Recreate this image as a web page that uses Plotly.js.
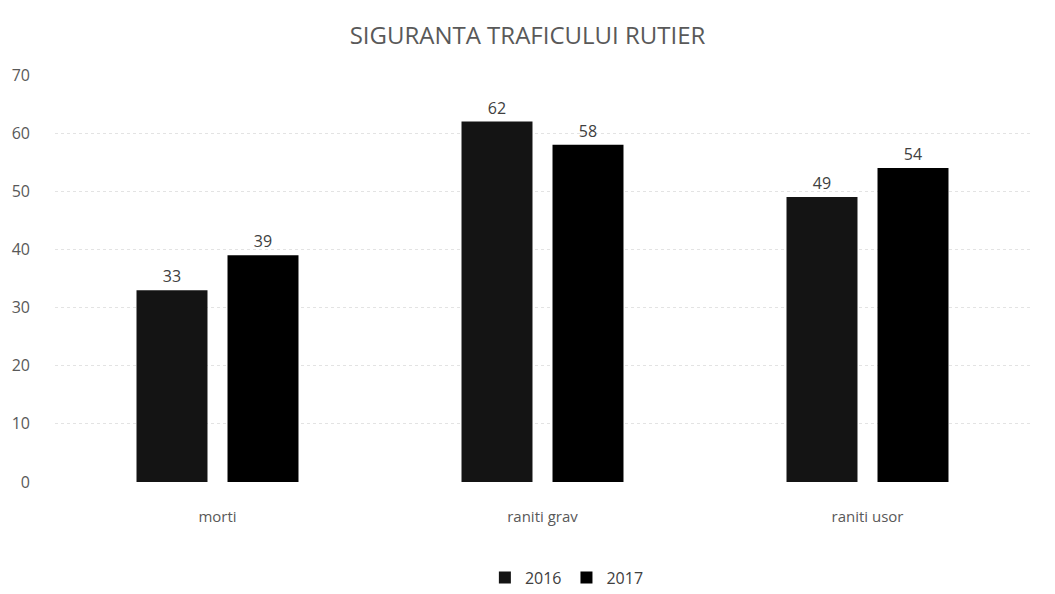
<!DOCTYPE html>
<html>
<head>
<meta charset="utf-8">
<script src="https://cdn.plot.ly/plotly-3.0.1.min.js"></script>
<style>
  html, body { margin: 0; padding: 0; background: #fff; }
  #grafic { width: 1055px; height: 594px; }
</style>
</head>
<body>
<div id="grafic"></div>
<script>
// categorii si valori
const categorii = ['morti', 'raniti grav', 'raniti usor'];
const valori2016 = [33, 62, 49];
const valori2017 = [39, 58, 54];
const ani = ['2016', '2017'];

const fontText = 'Open Sans, Liberation Sans, sans-serif';

function serie(nume, valori, culoare) {
    return {
        type: 'bar',
        name: nume,
        x: categorii,
        y: valori,
        text: valori.map(v => String(v)),
        textposition: 'outside',
        cliponaxis: false,
        textfont: { family: fontText, size: 16, color: '#404040' },
        marker: { color: culoare },
        hoverinfo: 'x+y'
    };
}

const date = [
    serie(ani[0], valori2016, '#141414'),
    serie(ani[1], valori2017, '#000000')
];

const layout = {
    width: 1055,
    height: 594,
    paper_bgcolor: '#ffffff',
    plot_bgcolor: '#ffffff',
    margin: { l: 55, r: 25, t: 75, b: 112, autoexpand: false },
    title: {
        text: 'SIGURANTA TRAFICULUI RUTIER',
        x: 0.5,
        xanchor: 'center',
        y: 0.955,
        font: { family: fontText, size: 24, color: '#595959' }
    },
    barmode: 'group',
    bargap: 0.44,
    bargroupgap: 0.22,
    xaxis: {
        showline: false,
        ticks: '',
        tickfont: { family: fontText, size: 15, color: '#595959' },
        ticklabelstandoff: 24
    },
    yaxis: {
        range: [0, 70],
        dtick: 10,
        showline: false,
        zeroline: false,
        showgrid: true,
        gridcolor: '#e3e3e3',
        griddash: 'dot',
        tickfont: { family: fontText, size: 16, color: '#595959' },
        ticklabelstandoff: 24
    },
    legend: {
        orientation: 'h',
        x: 0.525,
        xanchor: 'center',
        y: -0.235,
        yanchor: 'middle',
        font: { family: fontText, size: 16, color: '#404040' }
    },
    showlegend: true
};

Plotly.newPlot('grafic', date, layout, { displayModeBar: false, staticPlot: true });
</script>
</body>
</html>
